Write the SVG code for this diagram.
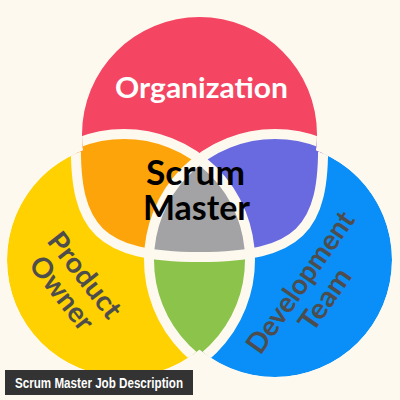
<svg xmlns="http://www.w3.org/2000/svg" width="400" height="400" viewBox="0 0 400 400">
  <defs>
    <style>
      .band { fill: none; stroke: #fdf9ef; stroke-width: 10; }
      .lbl { font-family: Lato, "Open Sans", "Liberation Sans", sans-serif; font-weight: 700; text-anchor: middle; }
      .side { fill: #4d4d4d; font-size: 28px; }
    </style>
    <clipPath id="union">
      <circle cx="124" cy="260" r="117"/>
      <circle cx="275" cy="260" r="117"/>
      <circle cx="199.5" cy="134.5" r="117.5"/>
    </clipPath>
    <clipPath id="tp">
      <path d="M76,0 L76,140 C74,230 100,257 199.5,257 C299,257 325,230 323,140 L323,0 Z"/>
    </clipPath>
    <clipPath id="cR">
      <circle cx="275" cy="260" r="126"/>
    </clipPath>
  </defs>

  <rect width="400" height="400" fill="#fdf9ef"/>

  <g id="venn" clip-path="url(#union)">
    <g id="product-owner-area">
      <circle cx="124" cy="260" r="117" fill="#ffd100"/>
    </g>
    <g id="development-team-area">
      <circle cx="275" cy="260" r="117" fill="#0a8ef7"/>
    </g>
    <g id="po-dev-overlap">
      <circle cx="124" cy="260" r="126" fill="#8cc34b" clip-path="url(#cR)"/>
    </g>
    <g clip-path="url(#tp)">
      <g id="organization-area">
        <rect x="0" y="0" width="400" height="400" fill="#f44562"/>
      </g>
      <g id="org-po-overlap">
        <circle cx="124" cy="260" r="126" fill="#fda40a"/>
      </g>
      <g id="org-dev-overlap">
        <circle cx="275" cy="260" r="126" fill="#6a6ae0"/>
      </g>
      <g id="scrum-master-area">
        <circle cx="124" cy="260" r="126" fill="#a3a3a5" clip-path="url(#cR)"/>
      </g>
    </g>
    <g id="gaps">
      <circle class="band" cx="124" cy="260" r="126"/>
      <circle class="band" cx="275" cy="260" r="126"/>
      <path class="band" d="M76,90 L76,140 C74,230 100,257 199.5,257 C299,257 325,230 323,140 L323,90"/>
    </g>
  </g>

  <g id="organization">
    <text class="lbl" x="201.5" y="98" font-size="29" fill="#ffffff" textLength="173" lengthAdjust="spacingAndGlyphs">Organization</text>
  </g>
  <g id="scrum-master">
    <text class="lbl" x="195.5" y="184.5" font-size="34" fill="#000000" textLength="99" lengthAdjust="spacingAndGlyphs">Scrum</text>
    <text class="lbl" x="196.5" y="219.5" font-size="34" fill="#000000" textLength="107" lengthAdjust="spacingAndGlyphs">Master</text>
  </g>
  <g id="product-owner" transform="translate(85,275) rotate(52)">
    <text class="lbl side" x="0" y="10" textLength="101" lengthAdjust="spacingAndGlyphs">Product</text>
    <text class="lbl side" x="0" y="39" textLength="86" lengthAdjust="spacingAndGlyphs">Owner</text>
  </g>
  <g id="development-team" transform="translate(300,282) rotate(-55)">
    <text class="lbl side" x="0" y="10" textLength="166" lengthAdjust="spacingAndGlyphs">Development</text>
    <text class="lbl side" x="0" y="40" textLength="70" lengthAdjust="spacingAndGlyphs">Team</text>
  </g>

  <g id="caption">
    <rect x="5" y="370" width="188" height="25" fill="#333333"/>
    <text x="99" y="387.5" font-family="'Liberation Sans Narrow', 'Liberation Sans', sans-serif" font-weight="700" font-size="14" fill="#ffffff" text-anchor="middle" textLength="168" lengthAdjust="spacingAndGlyphs">Scrum Master Job Description</text>
  </g>
</svg>
